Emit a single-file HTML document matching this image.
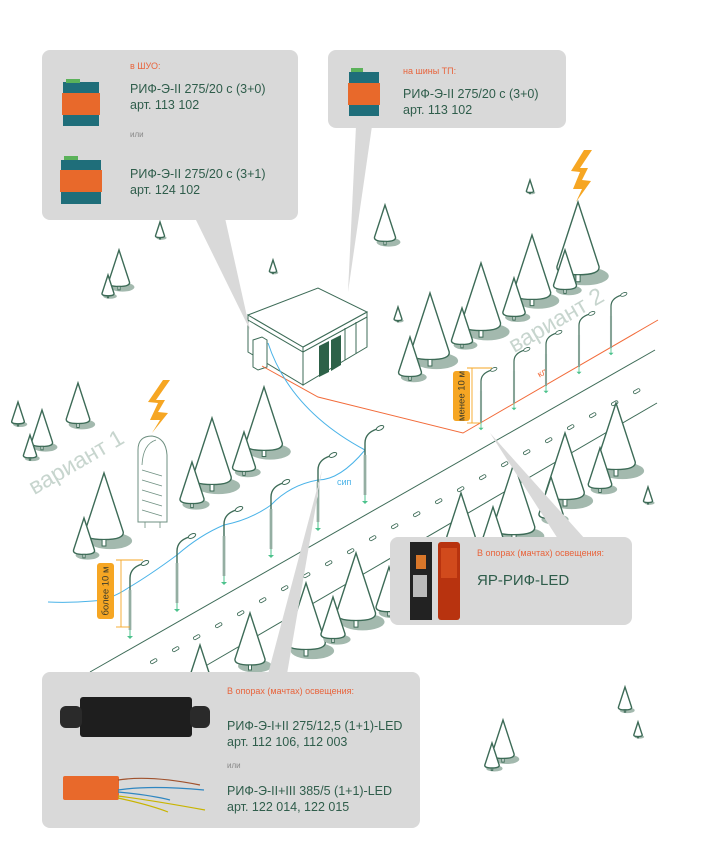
<!DOCTYPE html>
<html><head><meta charset="utf-8"><style>
html,body{margin:0;padding:0;background:#fff}
svg{display:block}
text{font-family:"Liberation Sans",sans-serif}
.t{fill:#e8643c;font-size:9px}
.m{fill:#2f5d4b;font-size:12.5px}
.o{fill:#888;font-size:8px}
</style></head><body>
<svg width="718" height="850" viewBox="0 0 718 850" xmlns="http://www.w3.org/2000/svg">
<defs>
<g id="tr">
<ellipse cx="10" cy="106" rx="34" ry="13" fill="#a3b9ae"/>
<path d="M0 0 L-30 92 Q-32 104 0 104 Q32 104 30 92 Z" fill="#fff" stroke="#3d6b57" stroke-width="1.4" vector-effect="non-scaling-stroke"/>
<rect x="-3" y="104" width="6" height="10" fill="#fff" stroke="#3d6b57" stroke-width="1" vector-effect="non-scaling-stroke"/>
</g>
<g id="pl">
<line x1="0" y1="0" x2="0" y2="-40" stroke="#3d6b57" stroke-width="2.4"/>
<line x1="0" y1="0" x2="0" y2="-40" stroke="#fff" stroke-width="0.9"/>
<path d="M0 -40 L0 -52 Q0 -62 12 -66" fill="none" stroke="#3d6b57" stroke-width="1.4"/>
<ellipse cx="15" cy="-67" rx="4" ry="2" transform="rotate(-25 15 -67)" fill="#fff" stroke="#3d6b57" stroke-width="1"/>
<line x1="0" y1="0" x2="0" y2="7" stroke="#4cc28c" stroke-width="1"/>
<path d="M-3 6 L3 6 L0 9Z" fill="#4cc28c"/>
</g>
</defs>

<g stroke="#3d6b57" stroke-width="1" fill="none">
<line x1="90" y1="672" x2="655" y2="350"/>
<line x1="190" y1="675" x2="657" y2="403"/>
</g>
<g fill="#fff" stroke="#3d6b57" stroke-width="0.8">
<rect x="150" y="660" width="7" height="3" rx="1.5" transform="rotate(-30 153 661)"/>
<rect x="172" y="648" width="7" height="3" rx="1.5" transform="rotate(-30 175 649)"/>
<rect x="193" y="636" width="7" height="3" rx="1.5" transform="rotate(-30 196 637)"/>
<rect x="215" y="624" width="7" height="3" rx="1.5" transform="rotate(-30 218 625)"/>
<rect x="237" y="612" width="7" height="3" rx="1.5" transform="rotate(-30 240 613)"/>
<rect x="259" y="599" width="7" height="3" rx="1.5" transform="rotate(-30 262 600)"/>
<rect x="281" y="587" width="7" height="3" rx="1.5" transform="rotate(-30 284 588)"/>
<rect x="303" y="574" width="7" height="3" rx="1.5" transform="rotate(-30 306 575)"/>
<rect x="325" y="562" width="7" height="3" rx="1.5" transform="rotate(-30 328 563)"/>
<rect x="347" y="550" width="7" height="3" rx="1.5" transform="rotate(-30 350 551)"/>
<rect x="369" y="537" width="7" height="3" rx="1.5" transform="rotate(-30 372 538)"/>
<rect x="391" y="525" width="7" height="3" rx="1.5" transform="rotate(-30 394 526)"/>
<rect x="413" y="513" width="7" height="3" rx="1.5" transform="rotate(-30 416 514)"/>
<rect x="435" y="500" width="7" height="3" rx="1.5" transform="rotate(-30 438 501)"/>
<rect x="457" y="488" width="7" height="3" rx="1.5" transform="rotate(-30 460 489)"/>
<rect x="479" y="476" width="7" height="3" rx="1.5" transform="rotate(-30 482 477)"/>
<rect x="501" y="463" width="7" height="3" rx="1.5" transform="rotate(-30 504 464)"/>
<rect x="523" y="451" width="7" height="3" rx="1.5" transform="rotate(-30 526 452)"/>
<rect x="545" y="439" width="7" height="3" rx="1.5" transform="rotate(-30 548 440)"/>
<rect x="567" y="426" width="7" height="3" rx="1.5" transform="rotate(-30 570 427)"/>
<rect x="589" y="414" width="7" height="3" rx="1.5" transform="rotate(-30 592 415)"/>
<rect x="611" y="402" width="7" height="3" rx="1.5" transform="rotate(-30 614 403)"/>
<rect x="633" y="390" width="7" height="3" rx="1.5" transform="rotate(-30 636 391)"/>
</g>

<text x="75" y="470" transform="rotate(-30 75 460)" text-anchor="middle" style="font-size:23px;fill:#c7d5ce">вариант 1</text>
<text x="555" y="328" transform="rotate(-30 555 318)" text-anchor="middle" style="font-size:23px;fill:#c7d5ce">вариант 2</text>

<g>
<use href="#tr" transform="translate(160,222) scale(0.15)"/>
<use href="#tr" transform="translate(385,205) scale(0.35)"/>
<use href="#tr" transform="translate(530,180) scale(0.12)"/>
<use href="#tr" transform="translate(273,260) scale(0.12)"/>
<use href="#tr" transform="translate(398,307) scale(0.13)"/>
<use href="#tr" transform="translate(119,250) scale(0.35)"/>
<use href="#tr" transform="translate(108,275) scale(0.2)"/>
<use href="#tr" transform="translate(578,202) scale(0.7)"/>
<use href="#tr" transform="translate(532,235) scale(0.62)"/>
<use href="#tr" transform="translate(565,250) scale(0.38)"/>
<use href="#tr" transform="translate(481,263) scale(0.65)"/>
<use href="#tr" transform="translate(514,278) scale(0.37)"/>
<use href="#tr" transform="translate(430,293) scale(0.64)"/>
<use href="#tr" transform="translate(462,308) scale(0.35)"/>
<use href="#tr" transform="translate(410,337) scale(0.38)"/>
<use href="#tr" transform="translate(78,383) scale(0.39)"/>
<use href="#tr" transform="translate(18,402) scale(0.21)"/>
<use href="#tr" transform="translate(42,410) scale(0.35)"/>
<use href="#tr" transform="translate(30,435) scale(0.22)"/>
<use href="#tr" transform="translate(264,387) scale(0.61)"/>
<use href="#tr" transform="translate(212,418) scale(0.64)"/>
<use href="#tr" transform="translate(244,432) scale(0.38)"/>
<use href="#tr" transform="translate(192,462) scale(0.4)"/>
<use href="#tr" transform="translate(104,473) scale(0.64)"/>
<use href="#tr" transform="translate(84,518) scale(0.35)"/>
<use href="#tr" transform="translate(616,403) scale(0.64)"/>
<use href="#tr" transform="translate(565,433) scale(0.64)"/>
<use href="#tr" transform="translate(600,448) scale(0.39)"/>
<use href="#tr" transform="translate(514,463) scale(0.69)"/>
<use href="#tr" transform="translate(551,477) scale(0.4)"/>
<use href="#tr" transform="translate(461,493) scale(0.47)"/>
<use href="#tr" transform="translate(493,507) scale(0.33)"/>
<use href="#tr" transform="translate(648,487) scale(0.15)"/>
<use href="#tr" transform="translate(356,553) scale(0.65)"/>
<use href="#tr" transform="translate(389,567) scale(0.43)"/>
<use href="#tr" transform="translate(306,583) scale(0.64)"/>
<use href="#tr" transform="translate(333,597) scale(0.4)"/>
<use href="#tr" transform="translate(250,613) scale(0.5)"/>
<use href="#tr" transform="translate(200,645) scale(0.35)"/>
<use href="#tr" transform="translate(503,720) scale(0.37)"/>
<use href="#tr" transform="translate(492,743) scale(0.24)"/>
<use href="#tr" transform="translate(625,687) scale(0.22)"/>
<use href="#tr" transform="translate(638,722) scale(0.14)"/>
</g>

<path d="M163 380 L148 402 L158 403 L150 420 L160 420 L152 433 L168 413 L158 412 L165 400 L156 400 L170 380Z" fill="#f6a623"/>
<path d="M584 150 L571 171 L580 172 L573 189 L582 189 L576 202 L591 181 L582 180 L588 168 L580 168 L592 150Z" fill="#f6a623"/>

<path d="M138 522 L138 450 Q138 436 152 436 Q166 438 167 455 L167 522Z" fill="#fff" stroke="#6e8f80" stroke-width="1"/>
<g stroke="#6e8f80" stroke-width="0.8" fill="none">
<path d="M142 465 Q143 444 156 440"/><path d="M142 470 L162 476 M142 480 L162 486 M142 490 L162 496 M142 500 L162 506 M142 510 L162 516"/>
<line x1="145" y1="522" x2="145" y2="528"/><line x1="160" y1="522" x2="160" y2="528"/>
</g>

<g stroke="#3d6b57" stroke-width="1" fill="#fff">
<polygon points="248,315 248,352 303,385 303,347"/>
<polygon points="303,347 303,385 367,347 367,312"/>
<polygon points="248,315 318,288 367,312 303,347"/>
<polyline points="248,320 303,352 367,317" fill="none"/>
<polygon points="253,340 262,337 267,340 267,367 258,370 253,367"/>
<line x1="345" y1="328" x2="345" y2="360"/>
<line x1="356" y1="322" x2="356" y2="354"/>
</g>
<polygon points="319,346 329,341 329,372 319,377" fill="#2d6148"/>
<polygon points="331,340 341,335 341,365 331,371" fill="#2d6148"/>

<polyline points="262,366 318,397 463,433 658,320" fill="none" stroke="#f26b3a" stroke-width="1"/>
<text x="538" y="378" transform="rotate(-30 538 375)" style="font-size:9px;fill:#f26b3a">кл</text>
<path d="M268 343 Q290 410 365 450" fill="none" stroke="#4ab3e8" stroke-width="1"/>
<path d="M365 450 Q340 480 318 480 Q290 485 271 505 Q250 520 224 525 Q200 535 177 555 Q150 575 128 588 Q110 600 93 601 Q70 603 48 602" fill="none" stroke="#4ab3e8" stroke-width="1"/>
<text x="337" y="485" style="font-size:9px;fill:#4ab3e8">сип</text>

<use href="#pl" transform="translate(130,630)"/>
<use href="#pl" transform="translate(177,603)"/>
<use href="#pl" transform="translate(224,576)"/>
<use href="#pl" transform="translate(271,549)"/>
<use href="#pl" transform="translate(318,522)"/>
<use href="#pl" transform="translate(365,495)"/>
<use href="#pl" transform="translate(481,423) scale(0.85 0.8)"/>
<use href="#pl" transform="translate(514,403) scale(0.85 0.8)"/>
<use href="#pl" transform="translate(546,386) scale(0.85 0.8)"/>
<use href="#pl" transform="translate(579,367) scale(0.85 0.8)"/>
<use href="#pl" transform="translate(611,348) scale(0.85 0.8)"/>

<g stroke="#f6a623" stroke-width="0.9">
<line x1="121" y1="560" x2="121" y2="627"/><line x1="116" y1="560" x2="143" y2="560"/><line x1="116" y1="627" x2="130" y2="627"/>
<line x1="472" y1="368" x2="472" y2="423"/><line x1="467" y1="368" x2="492" y2="368"/><line x1="467" y1="423" x2="481" y2="423"/>
</g>
<rect x="97" y="563" width="17" height="56" rx="3" fill="#f6a623"/>
<text x="105.5" y="594" transform="rotate(-90 105.5 591)" text-anchor="middle" style="font-size:9.5px;fill:#3b3b2b">более 10 м</text>
<rect x="453" y="371" width="17" height="50" rx="3" fill="#f6a623"/>
<text x="461.5" y="399" transform="rotate(-90 461.5 396)" text-anchor="middle" style="font-size:9.5px;fill:#3b3b2b">менее 10 м</text>

<g fill="#d9d9d9">
<polygon points="195,218 225,218 250,330"/>
<polygon points="356,126 372,126 348,292"/>
<polygon points="558,539 585,539 490,433"/>
<polygon points="268,674 287,674 322,470"/>
</g>
<rect x="42" y="50" width="256" height="170" rx="8" fill="#d9d9d9"/>
<rect x="328" y="50" width="238" height="78" rx="8" fill="#d9d9d9"/>
<rect x="390" y="537" width="242" height="88" rx="8" fill="#d9d9d9"/>
<rect x="42" y="672" width="378" height="156" rx="8" fill="#d9d9d9"/>

<g>
<rect x="63" y="82" width="36" height="44" fill="#1f6e7a"/><rect x="62" y="93" width="38" height="22" fill="#e8692b"/><rect x="66" y="79" width="14" height="4" fill="#5bb25a"/>
<rect x="61" y="160" width="40" height="44" fill="#1f6e7a"/><rect x="60" y="170" width="42" height="22" fill="#e8692b"/><rect x="64" y="156" width="14" height="4" fill="#5bb25a"/>
<rect x="349" y="72" width="30" height="44" fill="#1f6e7a"/><rect x="348" y="83" width="32" height="22" fill="#e8692b"/><rect x="351" y="68" width="12" height="4" fill="#5bb25a"/>
<rect x="410" y="542" width="22" height="78" fill="#222"/><rect x="416" y="555" width="10" height="14" fill="#d9772a"/><rect x="413" y="575" width="14" height="22" fill="#bbb"/>
<rect x="438" y="542" width="22" height="78" rx="3" fill="#b8330f"/><rect x="441" y="548" width="16" height="30" fill="#d14a1c"/>
<rect x="80" y="697" width="112" height="40" rx="3" fill="#1e1e1e"/><rect x="60" y="706" width="22" height="22" rx="6" fill="#2a2a2a"/><rect x="190" y="706" width="20" height="22" rx="6" fill="#2a2a2a"/>
<rect x="63" y="776" width="56" height="24" rx="2" fill="#e8692b"/>
</g>
<g fill="none" stroke-width="1.2">
<path d="M118 780 Q150 775 200 785" stroke="#a0522d"/>
<path d="M118 790 Q150 785 204 790 M118 792 Q150 795 170 800" stroke="#2e86c1"/>
<path d="M118 796 Q150 800 205 810 M118 798 Q150 805 168 812" stroke="#c8b400"/>
</g>

<text class="t" x="130" y="69">в ШУО:</text>
<text class="m" x="130" y="93">РИФ-Э-II 275/20 с (3+0)</text>
<text class="m" x="130" y="109">арт. 113 102</text>
<text class="o" x="130" y="137">или</text>
<text class="m" x="130" y="178">РИФ-Э-II 275/20 с (3+1)</text>
<text class="m" x="130" y="194">арт. 124 102</text>
<text class="t" x="403" y="74">на шины ТП:</text>
<text class="m" x="403" y="98">РИФ-Э-II 275/20 с (3+0)</text>
<text class="m" x="403" y="114">арт. 113 102</text>
<text class="t" x="477" y="556">В опорах (мачтах) освещения:</text>
<text class="m" x="477" y="585" style="font-size:15px">ЯР-РИФ-LED</text>
<text class="t" x="227" y="694">В опорах (мачтах) освещения:</text>
<text class="m" x="227" y="730">РИФ-Э-I+II 275/12,5 (1+1)-LED</text>
<text class="m" x="227" y="746">арт. 112 106, 112 003</text>
<text class="o" x="227" y="768">или</text>
<text class="m" x="227" y="795">РИФ-Э-II+III 385/5 (1+1)-LED</text>
<text class="m" x="227" y="811">арт. 122 014, 122 015</text>
</svg>
</body></html>
